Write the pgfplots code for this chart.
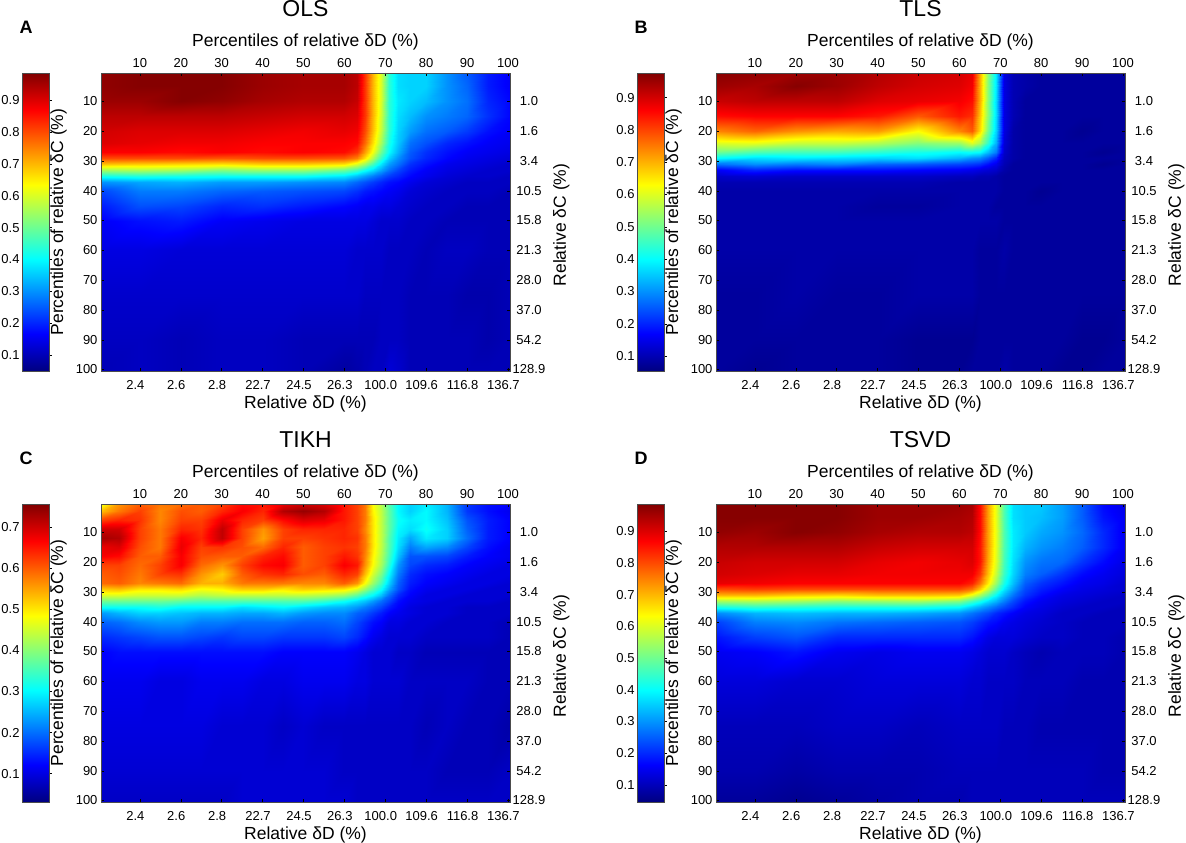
\documentclass[border=0pt]{standalone}
\usepackage{fontspec}
\setmainfont{Liberation Sans}
\usepackage{pgfplots}
\usepackage{pgfplotstable}
\pgfplotsset{compat=1.18}

% header line: x percentile of each column; first column: y percentile
\pgfplotstableread{
y 0.5 10 20 30 40 50 60 63 65 67 69 71 73 76 80 85 90 95 100.5
0.5 .97 .98 .98 .98 .96 .95 .95 .93 .82 .70 .60 .44 .37 .36 .36 .30 .25 .19 .16
5 .97 .98 .98 .98 .96 .95 .95 .93 .82 .70 .60 .44 .37 .36 .36 .30 .26 .19 .16
10 .96 .96 .98 .97 .95 .94 .94 .92 .82 .70 .60 .44 .38 .36 .34 .30 .27 .20 .17
15 .93 .93 .93 .93 .92 .91 .91 .90 .82 .70 .59 .44 .37 .34 .30 .28 .26 .21 .17
20 .91 .90 .90 .90 .89 .88 .89 .88 .80 .69 .58 .44 .36 .31 .27 .25 .22 .18 .16
24 .90 .89 .88 .88 .87 .87 .87 .86 .77 .66 .55 .42 .35 .27 .24 .20 .18 .16 .15
27 .87 .87 .86 .87 .86 .87 .86 .82 .72 .62 .50 .40 .33 .25 .21 .18 .16 .15 .14
29 .80 .80 .80 .79 .80 .80 .79 .75 .66 .56 .45 .36 .30 .24 .20 .17 .15 .14 .13
31 .69 .68 .67 .66 .68 .68 .66 .60 .54 .46 .38 .31 .27 .21 .18 .15 .14 .13 .12
33 .55 .56 .55 .52 .54 .54 .50 .46 .41 .37 .32 .27 .23 .19 .16 .14 .13 .12 .12
35 .42 .43 .42 .41 .41 .41 .38 .34 .31 .28 .25 .22 .20 .17 .15 .13 .12 .12 .11
37 .30 .32 .33 .31 .31 .30 .29 .26 .24 .22 .20 .18 .17 .15 .13 .12 .11 .11 .11
40 .23 .28 .28 .26 .25 .24 .23 .21 .19 .18 .17 .16 .15 .13 .12 .11 .11 .11 .10
45 .19 .24 .23 .20 .21 .19 .17 .16 .15 .15 .14 .14 .13 .12 .11 .11 .10 .10 .10
50 .16 .18 .19 .16 .15 .14 .14 .14 .14 .13 .12 .12 .12 .11 .11 .10 .10 .10 .10
60 .14 .14 .13 .13 .13 .13 .13 .12 .12 .12 .12 .11 .11 .11 .10 .11 .11 .10 .10
75 .12 .12 .12 .12 .12 .12 .12 .12 .11 .11 .11 .11 .11 .10 .10 .10 .09 .09 .10
90 .11 .11 .10 .11 .11 .10 .10 .10 .10 .10 .11 .11 .11 .10 .10 .10 .10 .09 .10
100.5 .10 .11 .10 .11 .11 .10 .08 .09 .10 .11 .11 .13 .12 .10 .10 .10 .10 .10 .10
}\tableOLS

\pgfplotstableread{
y 0.5 10 20 30 40 50 60 63 65 67 69 71 73 76 80 85 90 95 100.5
0.5 .97 .96 .95 .95 .93 .91 .90 .88 .70 .52 .38 .14 .10 .09 .08 .08 .08 .08 .08
5 .95 .94 .97 .95 .92 .90 .89 .87 .70 .52 .38 .14 .10 .09 .08 .08 .08 .08 .08
10 .91 .92 .92 .92 .89 .88 .87 .85 .70 .52 .37 .14 .10 .08 .08 .08 .08 .08 .08
15 .85 .86 .86 .86 .84 .78 .84 .82 .68 .52 .37 .14 .10 .08 .08 .08 .08 .08 .08
20 .74 .77 .73 .71 .72 .63 .74 .78 .66 .50 .36 .14 .09 .08 .08 .08 .07 .08 .08
24 .60 .61 .58 .58 .56 .52 .54 .60 .55 .44 .33 .13 .09 .08 .08 .08 .08 .08 .08
27 .50 .47 .46 .46 .44 .42 .40 .41 .40 .34 .28 .12 .09 .08 .08 .08 .08 .07 .08
29 .40 .37 .38 .37 .36 .37 .33 .30 .29 .25 .20 .11 .09 .08 .08 .08 .08 .08 .08
31 .27 .30 .28 .29 .26 .25 .23 .22 .21 .18 .15 .10 .08 .08 .08 .08 .08 .07 .08
33 .16 .20 .18 .18 .18 .17 .16 .15 .14 .13 .12 .09 .08 .08 .08 .08 .08 .08 .08
35 .12 .13 .12 .12 .12 .12 .11 .11 .10 .10 .09 .08 .08 .08 .08 .08 .08 .08 .08
37 .10 .10 .10 .10 .10 .10 .09 .09 .09 .09 .09 .08 .08 .08 .08 .08 .08 .08 .08
40 .09 .09 .09 .09 .09 .09 .09 .09 .09 .09 .09 .08 .08 .08 .07 .08 .08 .08 .08
45 .09 .09 .09 .09 .08 .08 .09 .09 .09 .09 .08 .08 .08 .08 .08 .08 .08 .08 .08
50 .09 .09 .09 .09 .09 .09 .09 .09 .09 .09 .09 .08 .08 .08 .08 .08 .08 .08 .08
60 .09 .09 .09 .09 .09 .09 .09 .09 .08 .08 .08 .09 .08 .08 .08 .08 .08 .08 .08
75 .08 .08 .09 .08 .08 .09 .09 .09 .08 .08 .08 .08 .08 .08 .08 .08 .08 .08 .08
90 .08 .08 .08 .08 .08 .07 .07 .07 .08 .08 .08 .08 .08 .08 .08 .08 .07 .07 .08
100.5 .08 .07 .08 .08 .08 .07 .07 .08 .08 .08 .08 .09 .08 .08 .08 .07 .07 .08 .08
}\tableTLS

\pgfplotstableread{
y 0.5 5 10 15 20 25 30 35 40 45 50 55 60 63 65 67 69 71 73 76 80 85 90 95 100.5
0.5 .47 .56 .60 .58 .59 .60 .62 .66 .65 .68 .70 .69 .65 .62 .58 .48 .43 .36 .30 .27 .29 .25 .16 .13 .12
3 .53 .58 .62 .57 .61 .60 .64 .67 .64 .72 .74 .72 .65 .62 .58 .49 .44 .37 .30 .27 .30 .25 .16 .13 .11
6 .62 .64 .63 .57 .62 .62 .68 .64 .62 .66 .69 .68 .65 .62 .58 .50 .44 .37 .31 .29 .30 .26 .18 .14 .12
9 .70 .70 .62 .58 .64 .63 .71 .62 .56 .62 .64 .64 .64 .62 .57 .50 .44 .37 .30 .28 .31 .27 .19 .14 .12
12 .73 .72 .62 .58 .67 .64 .71 .62 .55 .62 .62 .63 .64 .63 .58 .50 .44 .36 .29 .24 .29 .27 .20 .14 .12
15 .68 .69 .61 .58 .68 .62 .63 .61 .59 .64 .60 .62 .63 .62 .58 .50 .44 .36 .28 .21 .24 .22 .17 .13 .11
18 .67 .66 .60 .60 .67 .61 .60 .60 .64 .66 .60 .62 .65 .63 .57 .49 .43 .35 .26 .18 .18 .17 .14 .12 .11
21 .62 .62 .59 .62 .67 .59 .56 .62 .66 .67 .60 .62 .67 .65 .56 .48 .42 .33 .23 .17 .15 .14 .12 .11 .10
24 .60 .61 .58 .62 .63 .56 .52 .60 .63 .64 .61 .60 .64 .62 .53 .45 .39 .30 .21 .15 .13 .12 .11 .10 .10
27 .59 .60 .57 .58 .59 .54 .54 .58 .58 .58 .57 .57 .60 .56 .48 .41 .35 .27 .19 .14 .12 .11 .10 .10 .09
29 .52 .53 .50 .50 .51 .48 .49 .52 .52 .50 .52 .51 .50 .46 .41 .36 .31 .24 .18 .13 .11 .10 .10 .09 .09
31 .46 .46 .45 .45 .45 .43 .44 .44 .44 .44 .44 .43 .41 .37 .33 .30 .26 .20 .15 .12 .10 .10 .09 .09 .09
33 .38 .38 .38 .38 .37 .36 .36 .36 .36 .36 .36 .34 .31 .28 .26 .23 .20 .17 .13 .11 .10 .09 .09 .09 .08
35 .31 .31 .31 .32 .30 .30 .30 .28 .29 .30 .28 .26 .25 .23 .21 .19 .17 .14 .12 .10 .09 .09 .08 .08 .08
37 .23 .25 .27 .27 .26 .25 .25 .24 .24 .25 .23 .22 .22 .19 .18 .16 .14 .12 .11 .10 .09 .09 .08 .08 .08
40 .19 .20 .22 .23 .23 .21 .21 .20 .20 .20 .19 .19 .20 .17 .15 .13 .12 .10 .10 .09 .09 .08 .08 .08 .07
45 .15 .16 .17 .18 .18 .17 .16 .17 .17 .16 .16 .16 .17 .15 .13 .11 .10 .09 .09 .09 .08 .08 .08 .08 .07
50 .12 .13 .13 .13 .13 .13 .13 .13 .13 .12 .12 .12 .12 .11 .10 .09 .09 .09 .08 .08 .07 .07 .07 .07 .07
60 .11 .11 .11 .10 .10 .11 .11 .11 .10 .10 .11 .11 .11 .10 .10 .09 .09 .09 .09 .08 .08 .08 .08 .07 .07
75 .10 .10 .10 .10 .10 .10 .09 .09 .09 .08 .09 .08 .08 .08 .08 .08 .08 .08 .08 .08 .07 .08 .07 .07 .06
90 .09 .09 .09 .09 .09 .09 .09 .09 .09 .09 .09 .09 .08 .08 .08 .08 .08 .08 .08 .08 .08 .07 .07 .07 .08
100.5 .08 .08 .08 .08 .08 .08 .08 .09 .09 .09 .09 .09 .09 .08 .08 .08 .08 .08 .08 .08 .08 .08 .08 .08 .08
}\tableTIKH

\pgfplotstableread{
y 0.5 10 20 30 40 50 60 63 65 67 69 71 73 76 80 85 90 95 100.5
0.5 .98 .98 .98 .98 .96 .96 .96 .95 .86 .72 .61 .47 .37 .35 .35 .31 .25 .17 .14
5 .98 .98 .98 .98 .96 .96 .95 .94 .86 .72 .61 .47 .37 .35 .34 .31 .25 .18 .15
10 .97 .96 .98 .97 .95 .94 .94 .93 .86 .72 .61 .47 .38 .35 .32 .30 .26 .20 .15
15 .94 .94 .94 .94 .92 .91 .91 .91 .85 .72 .61 .47 .38 .33 .30 .28 .25 .20 .15
20 .92 .91 .91 .91 .89 .88 .89 .90 .85 .71 .60 .46 .37 .30 .27 .26 .21 .17 .14
24 .91 .90 .89 .89 .88 .88 .88 .88 .82 .69 .58 .45 .36 .28 .25 .21 .17 .15 .13
27 .89 .88 .87 .87 .87 .87 .87 .84 .76 .65 .54 .42 .34 .25 .21 .18 .15 .14 .12
29 .80 .81 .80 .80 .80 .80 .80 .76 .68 .58 .48 .38 .31 .23 .19 .16 .14 .13 .12
31 .70 .70 .68 .67 .69 .69 .68 .61 .55 .48 .40 .33 .27 .21 .17 .14 .13 .12 .11
33 .55 .56 .55 .53 .54 .55 .52 .46 .42 .37 .33 .28 .23 .18 .15 .13 .12 .11 .11
35 .42 .44 .43 .42 .42 .42 .40 .35 .32 .29 .26 .23 .20 .16 .14 .12 .11 .11 .10
37 .29 .33 .34 .33 .33 .32 .30 .27 .25 .23 .20 .18 .16 .14 .13 .11 .11 .10 .10
40 .22 .28 .29 .27 .26 .25 .24 .22 .20 .18 .17 .15 .14 .13 .12 .11 .10 .10 .10
45 .18 .22 .24 .20 .20 .20 .20 .18 .16 .14 .13 .13 .13 .12 .11 .11 .10 .10 .09
50 .15 .16 .18 .15 .14 .15 .15 .14 .13 .12 .12 .12 .11 .10 .09 .10 .10 .10 .09
60 .13 .13 .12 .12 .13 .13 .13 .12 .12 .11 .11 .11 .11 .10 .10 .10 .09 .09 .09
75 .10 .10 .10 .11 .11 .10 .11 .11 .11 .11 .11 .10 .10 .10 .09 .09 .09 .09 .09
90 .09 .09 .08 .09 .09 .09 .10 .10 .10 .10 .10 .10 .10 .10 .10 .10 .10 .09 .09
100.5 .07 .07 .06 .07 .08 .09 .09 .10 .10 .10 .10 .10 .10 .10 .10 .10 .10 .10 .10
}\tableTSVD

% turn a wide table into the (x,y) [meta] stream that \addplot wants
\newcommand{\gridcoords}[1]{%
  \pgfplotstablegetrowsof{#1}\pgfmathtruncatemacro\lastrow{\pgfplotsretval-1}%
  \pgfplotstablegetcolsof{#1}\pgfmathtruncatemacro\lastcol{\pgfplotsretval-1}%
  \xdef\ncols{\lastcol}%
  \gdef\gridstream{}%
  \foreach \r in {0,...,\lastrow}{%
    \pgfplotstablegetelem{\r}{[index]0}\of{#1}\let\yval\pgfplotsretval
    \foreach \c in {1,...,\lastcol}{%
      \pgfplotstablegetcolumnnamebyindex{\c}\of{#1}\to\xval
      \pgfplotstablegetelem{\r}{[index]\c}\of{#1}%
      \xdef\gridstream{\gridstream (\xval,\yval) [\pgfplotsretval]}%
    }%
  }%
}

\newcommand{\tickfont}{\fontsize{13}{15}\selectfont}
\newcommand{\labfont}{\fontsize{17.5}{20}\selectfont}

\pgfplotsset{
  heatbase/.style={
    scale only axis, width=409pt, height=298pt,
    xmin=0.5, xmax=100.5, ymin=0.5, ymax=100.5, y dir=reverse,
    xtick={10,20,30,40,50,60,70,80,90,100},
    ytick={10,20,30,40,50,60,70,80,90,100},
    tick align=inside, major tick length=3pt,
    tick style={black, line width=0.4pt},
    axis line style={black!70, line width=0.4pt},
    tick label style={font=\tickfont},
    label style={font=\labfont},
  },
}

% #1,#2 lower left of the plot area, #3 title, #4 table, #5,#6 colour limits, #7 colour ticks, #8 letter
\newcommand{\panel}[8]{%
  \gridcoords{#4}%
  \begin{axis}[heatbase, at={(#1pt,#2pt)}, anchor=south west, axis on top,
    colormap/jet, point meta min=#5, point meta max=#6,
    xticklabel pos=top, yticklabel pos=left,
    xticklabels={10,20,30,40,50,60,70,80,90,100},
    yticklabels={10,20,30,40,50,60,70,80,90,100},
    xticklabel style={anchor=center, yshift=10pt},
    xlabel={Percentiles of relative δD (\%)},
    xlabel style={at={(axis description cs:0.5,1)}, anchor=center, yshift=31.5pt},
    ylabel={Percentiles of relative δC (\%)},
    ylabel style={at={(axis description cs:0,0.5)}, anchor=center, yshift=42.4pt},
    title={#3},
    title style={at={(axis description cs:0.5,1)}, anchor=center, yshift=58pt, font=\fontsize{23}{26}\selectfont},
    colorbar,
    colorbar/width=27pt,
    colorbar style={
      at={(parent axis.north west)}, anchor=north west, xshift=-87pt,
      height=298pt,
      ytick={#7}, yticklabels={#7}, yticklabel pos=left, ytick pos=right,
      yticklabel style={xshift=2.5pt},
      tick align=outside, major tick length=2pt,
      tick style={black, line width=0.4pt},
      axis line style={black!70, line width=0.4pt},
      tick label style={font=\tickfont},
      ylabel={},
    },
  ]
  \edef\doplot{\noexpand\addplot[surf, shader=interp, mesh/cols=\ncols, point meta=explicit] coordinates {\gridstream};}%
  \doplot
  \end{axis}
  \begin{axis}[heatbase, at={(#1pt,#2pt)}, anchor=south west,
    xticklabel pos=bottom, yticklabel pos=right,
    xticklabels={2.4,2.6,2.8,22.7,24.5,26.3,100.0,109.6,116.8,136.7},
    yticklabels={1.0,1.6,3.4,10.5,15.8,21.3,28.0,37.0,54.2,128.9},
    xticklabel style={anchor=center, xshift=-4.5pt, yshift=-14pt},
    yticklabel style={anchor=center, xshift=19pt},
    xlabel={Relative δD (\%)},
    xlabel style={at={(axis description cs:0.5,0)}, anchor=center, yshift=-33pt},
    ylabel={Relative δC (\%)},
    ylabel style={at={(axis description cs:1,0.5)}, anchor=center, yshift=-51.3pt, xshift=-3pt},
  ]
  \end{axis}
  \node[font=\fontsize{18}{20}\selectfont\bfseries] at ({#1pt-75pt},{#2pt+298pt+46pt}) {#8};
}

\begin{document}
\begin{tikzpicture}
\useasboundingbox (0,0) rectangle (1186pt,843pt);
\panel{101}{472}{OLS}{\tableOLS}{0.05}{0.985}{0.1,0.2,0.3,0.4,0.5,0.6,0.7,0.8,0.9}{A}
\panel{716}{472}{TLS}{\tableTLS}{0.054}{0.976}{0.1,0.2,0.3,0.4,0.5,0.6,0.7,0.8,0.9}{B}
\panel{101}{41}{TIKH}{\tableTIKH}{0.031}{0.756}{0.1,0.2,0.3,0.4,0.5,0.6,0.7}{C}
\panel{716}{41}{TSVD}{\tableTSVD}{0.046}{0.986}{0.1,0.2,0.3,0.4,0.5,0.6,0.7,0.8,0.9}{D}
\end{tikzpicture}
\end{document}
